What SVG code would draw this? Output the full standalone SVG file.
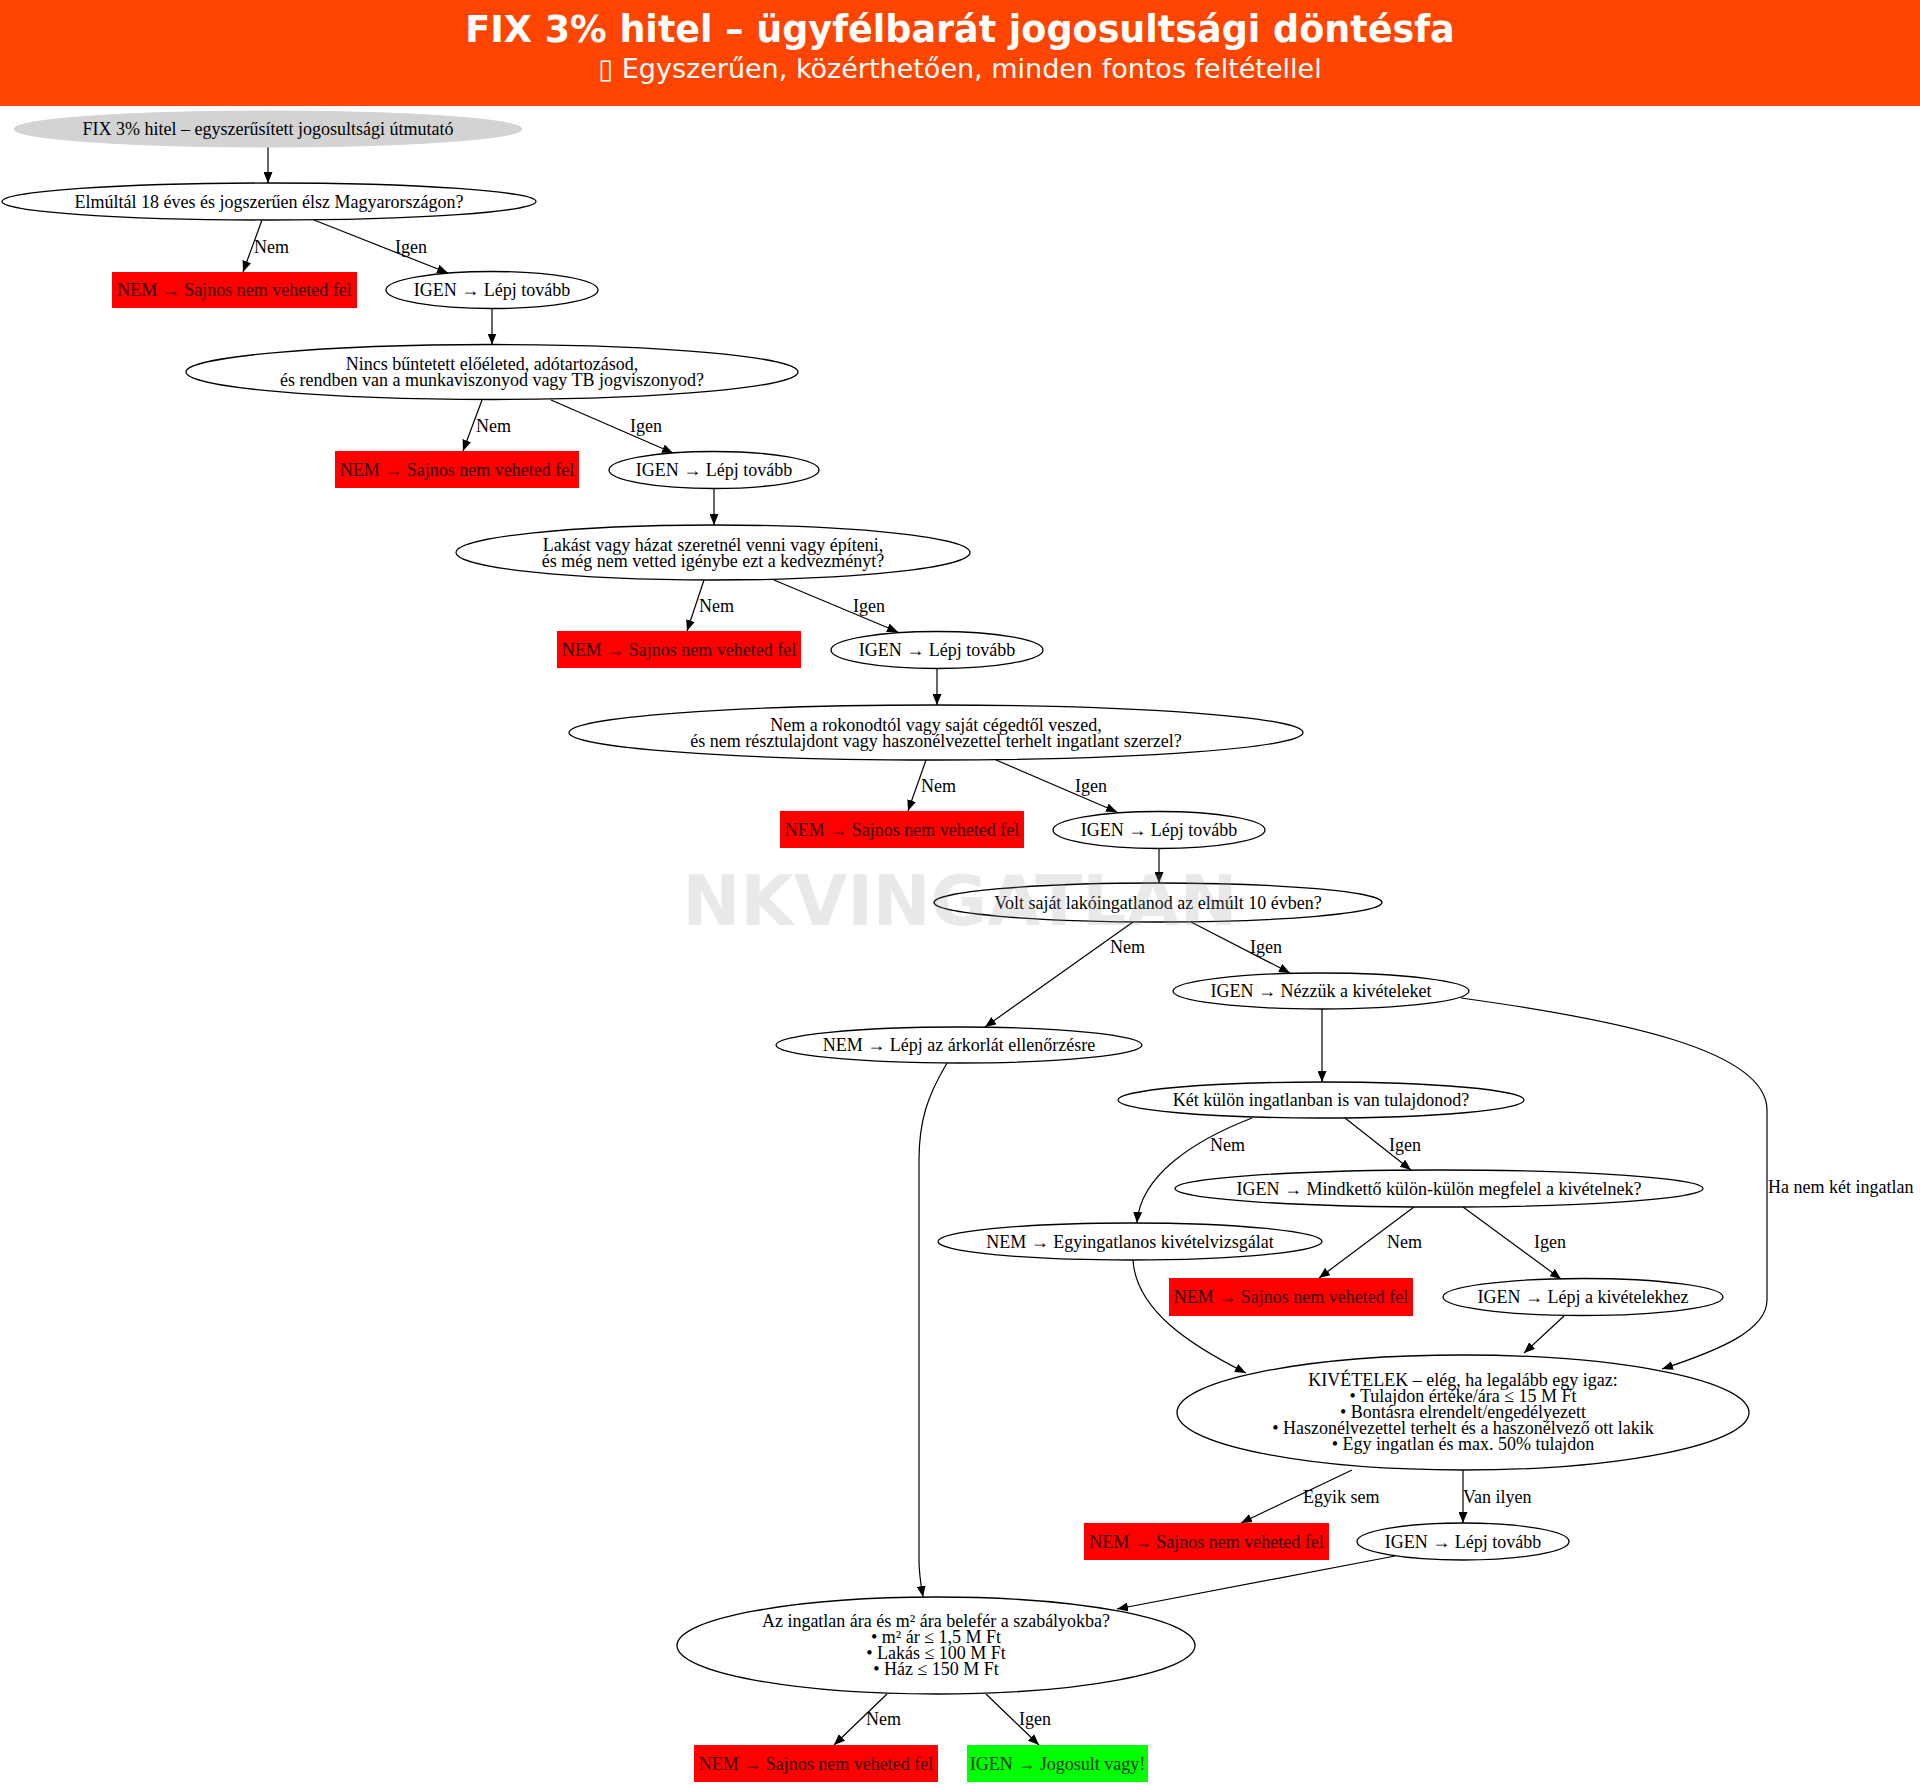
<svg xmlns="http://www.w3.org/2000/svg" width="1920" height="1786" viewBox="0 0 1920 1786">
<defs>
<marker id="ah" markerWidth="11" markerHeight="9" refX="11" refY="4.5" orient="auto" markerUnits="userSpaceOnUse"><path d="M0,0 L11,4.5 L0,9 z" fill="#000"/></marker>
<style>
.t{font-family:"Liberation Serif","Times New Roman",serif;font-size:18px;fill:#000;text-anchor:middle}
.l{font-family:"Liberation Serif","Times New Roman",serif;font-size:18px;fill:#000;text-anchor:start}
.e{fill:none;stroke:#000;stroke-width:1.3}
.r{fill:#ff0000}
.rt{fill:#3a0000}
.g{fill:#00ff00}
.gt{fill:#003a00}
.c{fill:none;stroke:#000;stroke-width:1.2;marker-end:url(#ah)}
</style>
</defs>
<rect width="1920" height="1786" fill="#fff"/>
<g id="header">
<rect x="0" y="0" width="1920" height="106" fill="#ff4500"/>
<text x="960" y="42" text-anchor="middle" font-family="DejaVu Sans, sans-serif" font-weight="bold" font-size="36.5" fill="#fff">FIX 3% hitel – ügyfélbarát jogosultsági döntésfa</text>
<text x="960" y="78" text-anchor="middle" font-family="DejaVu Sans, sans-serif" font-size="27" fill="#fff">▯ Egyszerűen, közérthetően, minden fontos feltétellel</text>
</g>
<g id="connectors">
<path class="c" d="M268,147 L268,183"/>
<path class="c" d="M262,220 L243,272"/>
<path class="c" d="M314,220 L448,273"/>
<path class="c" d="M492,308.5 L492,344.5"/>
<path class="c" d="M482,400 L463,451"/>
<path class="c" d="M551,400 L673,453"/>
<path class="c" d="M714,488.5 L714,525"/>
<path class="c" d="M704,580 L687,631"/>
<path class="c" d="M774,580 L898,632"/>
<path class="c" d="M937,668.5 L937,705"/>
<path class="c" d="M926,760 L908,811"/>
<path class="c" d="M996,760 L1117,812"/>
<path class="c" d="M1159,848.5 L1159,883"/>
<path class="c" d="M1133,922 L985,1027"/>
<path class="c" d="M1191,922 L1290,973"/>
<path class="c" d="M1322,1009 L1322,1082"/>
<path class="c" d="M1461,998 C1620,1020 1767,1050 1767,1110 L1767,1300 C1767,1330 1720,1350 1662,1369"/>
<path class="c" d="M947,1063 C928,1095 919,1120 919,1160 L919,1560 C919,1575 921,1585 923,1597"/>
<path class="c" d="M1252,1118 C1195,1140 1140,1175 1137,1223"/>
<path class="c" d="M1345,1118 L1411,1170"/>
<path class="c" d="M1414,1207 L1319,1278"/>
<path class="c" d="M1463,1207 L1561,1279"/>
<path class="c" d="M1133,1260 C1136,1310 1190,1345 1246,1373"/>
<path class="c" d="M1564,1316 L1524,1353"/>
<path class="c" d="M1352,1470 L1241,1523"/>
<path class="c" d="M1463,1470 L1463,1523"/>
<path class="c" d="M1395,1556 L1117,1609"/>
<path class="c" d="M887,1694 L834,1745"/>
<path class="c" d="M986,1694 L1039,1745"/>
<text class="l" x="254" y="253">Nem</text>
<text class="l" x="395" y="253">Igen</text>
<text class="l" x="476" y="432">Nem</text>
<text class="l" x="630" y="432">Igen</text>
<text class="l" x="699" y="612">Nem</text>
<text class="l" x="853" y="612">Igen</text>
<text class="l" x="921" y="792">Nem</text>
<text class="l" x="1075" y="792">Igen</text>
<text class="l" x="1110" y="953">Nem</text>
<text class="l" x="1250" y="953">Igen</text>
<text class="l" x="1210" y="1151">Nem</text>
<text class="l" x="1389" y="1151">Igen</text>
<text class="l" x="1768" y="1193">Ha nem két ingatlan</text>
<text class="l" x="1387" y="1248">Nem</text>
<text class="l" x="1534" y="1248">Igen</text>
<text class="l" x="1303" y="1503">Egyik sem</text>
<text class="l" x="1463" y="1503">Van ilyen</text>
<text class="l" x="866" y="1725">Nem</text>
<text class="l" x="1019" y="1725">Igen</text>
</g>
<g id="n0"><ellipse cx="268" cy="129" rx="254" ry="18" fill="#d3d3d3" stroke="#d3d3d3"/><text class="t" x="268" y="135">FIX 3% hitel – egyszerűsített jogosultsági útmutató</text></g>
<g id="n1"><ellipse class="e" cx="269" cy="201.5" rx="267" ry="18.5"/><text class="t" x="269" y="207.5">Elmúltál 18 éves és jogszerűen élsz Magyarországon?</text></g>
<g id="r1"><rect class="r" x="112" y="272" width="245" height="36"/><text class="t rt" x="234.5" y="296">NEM → Sajnos nem veheted fel</text></g>
<g id="y1"><ellipse class="e" cx="492" cy="290" rx="106" ry="18.5"/><text class="t" x="492" y="296">IGEN → Lépj tovább</text></g>
<g id="n2"><ellipse class="e" cx="492" cy="372" rx="306" ry="27.5"/><text class="t" x="492" y="370">Nincs bűntetett előéleted, adótartozásod,</text><text class="t" x="492" y="386">és rendben van a munkaviszonyod vagy TB jogviszonyod?</text></g>
<g id="r2"><rect class="r" x="335" y="451" width="244" height="37"/><text class="t rt" x="457" y="475.5">NEM → Sajnos nem veheted fel</text></g>
<g id="y2"><ellipse class="e" cx="714" cy="470" rx="105" ry="18.5"/><text class="t" x="714" y="476">IGEN → Lépj tovább</text></g>
<g id="n3"><ellipse class="e" cx="713" cy="552.5" rx="257" ry="27.5"/><text class="t" x="713" y="550.5">Lakást vagy házat szeretnél venni vagy építeni,</text><text class="t" x="713" y="566.5">és még nem vetted igénybe ezt a kedvezményt?</text></g>
<g id="r3"><rect class="r" x="557" y="631" width="244" height="37"/><text class="t rt" x="679" y="655.5">NEM → Sajnos nem veheted fel</text></g>
<g id="y3"><ellipse class="e" cx="937" cy="650" rx="106" ry="18.5"/><text class="t" x="937" y="656">IGEN → Lépj tovább</text></g>
<g id="n4"><ellipse class="e" cx="936" cy="732.5" rx="367" ry="27.5"/><text class="t" x="936" y="730.5">Nem a rokonodtól vagy saját cégedtől veszed,</text><text class="t" x="936" y="746.5">és nem résztulajdont vagy haszonélvezettel terhelt ingatlant szerzel?</text></g>
<g id="r4"><rect class="r" x="780" y="811" width="244" height="37"/><text class="t rt" x="902" y="835.5">NEM → Sajnos nem veheted fel</text></g>
<g id="y4"><ellipse class="e" cx="1159" cy="830" rx="106" ry="18.5"/><text class="t" x="1159" y="836">IGEN → Lépj tovább</text></g>
<g id="n5"><ellipse class="e" cx="1158" cy="902.5" rx="224" ry="19.5"/><text class="t" x="1158" y="908.5">Volt saját lakóingatlanod az elmúlt 10 évben?</text></g>
<g id="nz"><ellipse class="e" cx="1321" cy="991" rx="148" ry="18"/><text class="t" x="1321" y="997">IGEN → Nézzük a kivételeket</text></g>
<g id="na"><ellipse class="e" cx="959" cy="1045" rx="183" ry="18"/><text class="t" x="959" y="1051">NEM → Lépj az árkorlát ellenőrzésre</text></g>
<g id="nk"><ellipse class="e" cx="1321" cy="1100" rx="203" ry="18"/><text class="t" x="1321" y="1106">Két külön ingatlanban is van tulajdonod?</text></g>
<g id="nm"><ellipse class="e" cx="1439" cy="1188.5" rx="264" ry="18.5"/><text class="t" x="1439" y="1194.5">IGEN → Mindkettő külön-külön megfelel a kivételnek?</text></g>
<g id="ne"><ellipse class="e" cx="1130" cy="1241.5" rx="192" ry="18.5"/><text class="t" x="1130" y="1247.5">NEM → Egyingatlanos kivételvizsgálat</text></g>
<g id="r5"><rect class="r" x="1169" y="1278" width="244" height="38"/><text class="t rt" x="1291" y="1303">NEM → Sajnos nem veheted fel</text></g>
<g id="nl"><ellipse class="e" cx="1583" cy="1297" rx="140" ry="18.5"/><text class="t" x="1583" y="1303">IGEN → Lépj a kivételekhez</text></g>
<g id="nx"><ellipse class="e" cx="1463" cy="1412.5" rx="286" ry="57.5"/>
<text class="t" x="1463" y="1386">KIVÉTELEK – elég, ha legalább egy igaz:</text>
<text class="t" x="1463" y="1402">• Tulajdon értéke/ára ≤ 15 M Ft</text>
<text class="t" x="1463" y="1418">• Bontásra elrendelt/engedélyezett</text>
<text class="t" x="1463" y="1434">• Haszonélvezettel terhelt és a haszonélvező ott lakik</text>
<text class="t" x="1463" y="1450">• Egy ingatlan és max. 50% tulajdon</text></g>
<g id="r6"><rect class="r" x="1084" y="1523" width="245" height="37"/><text class="t rt" x="1206.5" y="1547.5">NEM → Sajnos nem veheted fel</text></g>
<g id="y6"><ellipse class="e" cx="1463" cy="1541.5" rx="106" ry="18.5"/><text class="t" x="1463" y="1547.5">IGEN → Lépj tovább</text></g>
<g id="nf"><ellipse class="e" cx="936" cy="1645.5" rx="259" ry="48.5"/>
<text class="t" x="936" y="1627">Az ingatlan ára és m² ára belefér a szabályokba?</text>
<text class="t" x="936" y="1643">• m² ár ≤ 1,5 M Ft</text>
<text class="t" x="936" y="1659">• Lakás ≤ 100 M Ft</text>
<text class="t" x="936" y="1675">• Ház ≤ 150 M Ft</text></g>
<g id="r7"><rect class="r" x="694" y="1745" width="244" height="37"/><text class="t rt" x="816" y="1769.5">NEM → Sajnos nem veheted fel</text></g>
<g id="gy"><rect class="g" x="967" y="1745" width="181" height="37"/><text class="t gt" x="1057.5" y="1769.5">IGEN → Jogosult vagy!</text></g>
<g id="watermark"><text x="960" y="925" text-anchor="middle" font-family="DejaVu Sans, sans-serif" font-weight="bold" font-size="69" fill="#999" fill-opacity="0.22">NKVINGATLAN</text></g>
</svg>
